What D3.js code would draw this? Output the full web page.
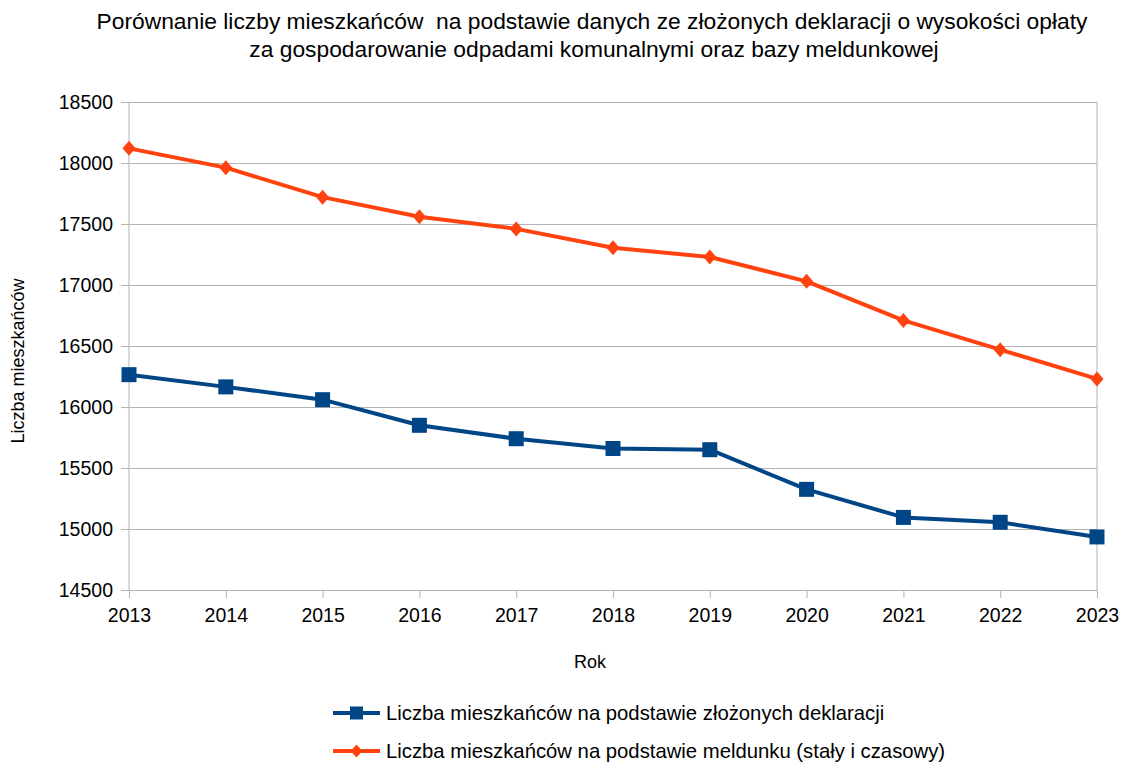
<!DOCTYPE html>
<meta charset="utf-8">
<head>
<style>
  body { margin: 0; background: #fff; }
  text { font-family: "Liberation Sans", Arial, sans-serif; fill: #000; white-space: pre; }
  .axis .domain { display: none; }
  .axis line { stroke: #b3b3b3; }
</style>
</head>
<body>
<script src="https://d3js.org/d3.v7.min.js"></script>
<script>
var years = [2013, 2014, 2015, 2016, 2017, 2018, 2019, 2020, 2021, 2022, 2023];
var deklaracje = [16265, 16165, 16060, 15850, 15740, 15660, 15650, 15325, 15095, 15055, 14935];
var meldunek = [18120, 17962, 17720, 17560, 17460, 17305, 17230, 17030, 16710, 16470, 16230];
var yTicks = [14500, 15000, 15500, 16000, 16500, 17000, 17500, 18000, 18500];

var width = 1121, height = 764;
var plotLeft = 129, plotRight = 1097, plotTop = 102, plotBottom = 590;

var svg = d3.select("body").append("svg")
    .attr("width", width)
    .attr("height", height);

var x = d3.scalePoint().domain(years).range([plotLeft, plotRight]);
var y = d3.scaleLinear().domain([14500, 18500]).range([plotBottom, plotTop]);

// marker shapes (LibreOffice-like)
function square(h) { return "M" + (-h) + "," + (-h) + "H" + h + "V" + h + "H" + (-h) + "Z"; }
function diamond(w, h) { return "M0," + (-h) + "L" + w + ",0L0," + h + "L" + (-w) + ",0Z"; }

// title
svg.append("text")
    .attr("x", 592).attr("y", 29)
    .attr("text-anchor", "middle")
    .style("font-size", "22.8px")
    .text("Porównanie liczby mieszkańców  na podstawie danych ze złożonych deklaracji o wysokości opłaty");
svg.append("text")
    .attr("x", 594).attr("y", 57)
    .attr("text-anchor", "middle")
    .style("font-size", "22.8px")
    .text("za gospodarowanie odpadami komunalnymi oraz bazy meldunkowej");

// gridlines + y axis
svg.append("g")
    .attr("class", "axis")
    .attr("transform", "translate(" + plotLeft + ",0)")
    .call(d3.axisLeft(y).tickValues(yTicks).tickSize(-(plotRight - plotLeft)).tickPadding(16).tickFormat(d3.format("d")))
  .call(function(g) {
    g.selectAll(".tick line").attr("x1", -8);
    g.selectAll(".tick text").style("font-size", "19.5px");
  });

// x axis
svg.append("g")
    .attr("class", "axis")
    .attr("transform", "translate(0," + plotBottom + ")")
    .call(d3.axisBottom(x).tickSize(8).tickPadding(10).tickFormat(d3.format("d")))
  .call(function(g) {
    g.selectAll(".tick text").style("font-size", "19.5px");
  });

// frame lines
svg.append("line").attr("x1", plotLeft).attr("x2", plotLeft).attr("y1", plotTop).attr("y2", plotBottom)
    .attr("stroke", "#b3b3b3");
svg.append("line").attr("x1", plotRight).attr("x2", plotRight).attr("y1", plotTop).attr("y2", plotBottom)
    .attr("stroke", "#b3b3b3");

// axis titles
svg.append("text")
    .attr("x", 590).attr("y", 668)
    .attr("text-anchor", "middle")
    .style("font-size", "18px")
    .text("Rok");
svg.append("text")
    .attr("transform", "translate(24,361) rotate(-90)")
    .attr("text-anchor", "middle")
    .style("font-size", "18px")
    .text("Liczba mieszkańców");

var line = d3.line().x(function(d, i) { return x(years[i]); }).y(function(d) { return y(d); });

var series = [
  { name: "Liczba mieszkańców na podstawie złożonych deklaracji", values: deklaracje, color: "#004586",
    marker: square(7.5), legendMarker: square(6.5) },
  { name: "Liczba mieszkańców na podstawie meldunku (stały i czasowy)", values: meldunek, color: "#ff420e",
    marker: diamond(6.5, 7.5), legendMarker: diamond(6, 6.5) }
];

series.forEach(function(s) {
  svg.append("path")
      .datum(s.values)
      .attr("fill", "none")
      .attr("stroke", s.color)
      .attr("stroke-width", 4)
      .attr("stroke-linejoin", "round")
      .attr("d", line);
  svg.selectAll(null)
      .data(s.values)
    .enter().append("path")
      .attr("transform", function(d, i) { return "translate(" + x(years[i]) + "," + y(d) + ")"; })
      .attr("d", s.marker)
      .attr("fill", s.color);
});

// legend
series.forEach(function(s, i) {
  var ly = 713 + i * 38;
  svg.append("line")
      .attr("x1", 333).attr("x2", 380).attr("y1", ly).attr("y2", ly)
      .attr("stroke", s.color).attr("stroke-width", 4);
  svg.append("path")
      .attr("transform", "translate(356.5," + ly + ")")
      .attr("d", s.legendMarker)
      .attr("fill", s.color);
  svg.append("text")
      .attr("x", 386).attr("y", ly + 7)
      .style("font-size", "20.3px")
      .text(s.name);
});
</script>
</body>
